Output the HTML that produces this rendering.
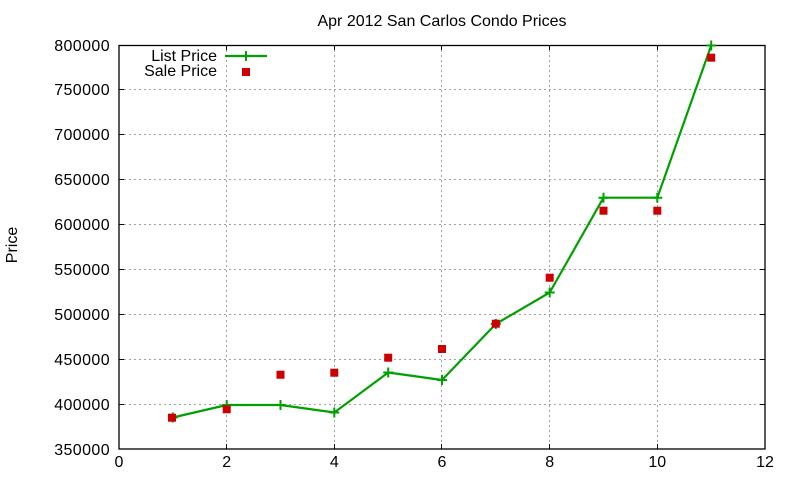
<!DOCTYPE html>
<html>
<head>
<meta charset="utf-8">
<style>
  html, body { margin:0; padding:0; background:#fff; }
  svg { display:block; }
  text { font-family: "Liberation Sans", Arial, sans-serif; font-size:16px; fill:#000; }
</style>
</head>
<body>
<svg width="800" height="480" viewBox="0 0 800 480" xmlns="http://www.w3.org/2000/svg">
  <rect x="0" y="0" width="800" height="480" fill="#fff"/>

  <!-- grid -->
  <g stroke="#a0a0a0" stroke-width="1" stroke-dasharray="2,3" fill="none">
    <line x1="119" y1="404.5" x2="765" y2="404.5"/>
    <line x1="119" y1="359.5" x2="765" y2="359.5"/>
    <line x1="119" y1="314.5" x2="765" y2="314.5"/>
    <line x1="119" y1="269.5" x2="765" y2="269.5"/>
    <line x1="119" y1="224.5" x2="765" y2="224.5"/>
    <line x1="119" y1="179.5" x2="765" y2="179.5"/>
    <line x1="119" y1="134.5" x2="765" y2="134.5"/>
    <line x1="119" y1="89.5" x2="765" y2="89.5"/>
    <line x1="226.5" y1="45" x2="226.5" y2="449"/>
    <line x1="334.5" y1="45" x2="334.5" y2="449"/>
    <line x1="441.5" y1="45" x2="441.5" y2="449"/>
    <line x1="549.5" y1="45" x2="549.5" y2="449"/>
    <line x1="657.5" y1="45" x2="657.5" y2="449"/>
  </g>

  <!-- ticks -->
  <g stroke="#000" stroke-width="1">
    <!-- y ticks left & right -->
    <line x1="119" y1="404.5" x2="124" y2="404.5"/><line x1="760" y1="404.5" x2="765" y2="404.5"/>
    <line x1="119" y1="359.5" x2="124" y2="359.5"/><line x1="760" y1="359.5" x2="765" y2="359.5"/>
    <line x1="119" y1="314.5" x2="124" y2="314.5"/><line x1="760" y1="314.5" x2="765" y2="314.5"/>
    <line x1="119" y1="269.5" x2="124" y2="269.5"/><line x1="760" y1="269.5" x2="765" y2="269.5"/>
    <line x1="119" y1="224.5" x2="124" y2="224.5"/><line x1="760" y1="224.5" x2="765" y2="224.5"/>
    <line x1="119" y1="179.5" x2="124" y2="179.5"/><line x1="760" y1="179.5" x2="765" y2="179.5"/>
    <line x1="119" y1="134.5" x2="124" y2="134.5"/><line x1="760" y1="134.5" x2="765" y2="134.5"/>
    <line x1="119" y1="89.5" x2="124" y2="89.5"/><line x1="760" y1="89.5" x2="765" y2="89.5"/>
    <!-- x ticks bottom & top -->
    <line x1="226.5" y1="444" x2="226.5" y2="449"/><line x1="226.5" y1="45" x2="226.5" y2="50"/>
    <line x1="334.5" y1="444" x2="334.5" y2="449"/><line x1="334.5" y1="45" x2="334.5" y2="50"/>
    <line x1="441.5" y1="444" x2="441.5" y2="449"/><line x1="441.5" y1="45" x2="441.5" y2="50"/>
    <line x1="549.5" y1="444" x2="549.5" y2="449"/><line x1="549.5" y1="45" x2="549.5" y2="50"/>
    <line x1="657.5" y1="444" x2="657.5" y2="449"/><line x1="657.5" y1="45" x2="657.5" y2="50"/>
  </g>

  <!-- border -->
  <rect x="119" y="45.5" width="646" height="403.5" fill="none" stroke="#000" stroke-width="1.3"/>

  <!-- y tick labels -->
  <g text-anchor="end" style="letter-spacing:0.4px">
    <text x="110" y="455">350000</text>
    <text x="110" y="410">400000</text>
    <text x="110" y="365">450000</text>
    <text x="110" y="320">500000</text>
    <text x="110" y="275">550000</text>
    <text x="110" y="230">600000</text>
    <text x="110" y="185">650000</text>
    <text x="110" y="140">700000</text>
    <text x="110" y="95">750000</text>
    <text x="110" y="51">800000</text>
  </g>

  <!-- x tick labels -->
  <g text-anchor="middle">
    <text x="119" y="467">0</text>
    <text x="226.7" y="467">2</text>
    <text x="334.3" y="467">4</text>
    <text x="442" y="467">6</text>
    <text x="549.7" y="467">8</text>
    <text x="657.3" y="467">10</text>
    <text x="765" y="467">12</text>
  </g>

  <!-- title -->
  <text x="442" y="26" text-anchor="middle">Apr 2012 San Carlos Condo Prices</text>

  <!-- y axis label -->
  <text transform="translate(17,245) rotate(-90)" text-anchor="middle">Price</text>

  <!-- List Price line -->
  <polyline fill="none" stroke="#00a000" stroke-width="2.2" stroke-linejoin="round"
    points="172.8,417.5 226.7,405 280.5,405 334.3,412.5 388.2,372.5 442,380 495.8,324 549.7,292.5 603.5,197.7 657.3,197.7 711.2,45.5"/>
  <!-- plus markers -->
  <g stroke="#00a000" stroke-width="2">
    <path d="M167.8,417.5h10M172.8,412.5v10"/>
    <path d="M221.7,405h10M226.7,400v10"/>
    <path d="M275.5,405h10M280.5,400v10"/>
    <path d="M329.3,412.5h10M334.3,407.5v10"/>
    <path d="M383.2,372.5h10M388.2,367.5v10"/>
    <path d="M437,380h10M442,375v10"/>
    <path d="M490.8,324h10M495.8,319v10"/>
    <path d="M544.7,292.5h10M549.7,287.5v10"/>
    <path d="M598.5,197.7h10M603.5,192.7v10"/>
    <path d="M652.3,197.7h10M657.3,192.7v10"/>
    <path d="M706.2,45.5h10M711.2,40.5v10"/>
  </g>

  <!-- Sale Price squares -->
  <g fill="#cc0000">
    <rect x="168" y="413.7" width="8" height="8"/>
    <rect x="222.7" y="405.3" width="8" height="8"/>
    <rect x="276.5" y="370.7" width="8" height="8"/>
    <rect x="330.3" y="368.7" width="8" height="8"/>
    <rect x="384.2" y="353.7" width="8" height="8"/>
    <rect x="438" y="345" width="8" height="8"/>
    <rect x="491.8" y="319.7" width="8" height="8"/>
    <rect x="545.7" y="273.7" width="8" height="8"/>
    <rect x="599.5" y="206.7" width="8" height="8"/>
    <rect x="653.3" y="206.7" width="8" height="8"/>
    <rect x="707.2" y="53.7" width="8" height="8"/>
  </g>

  <!-- legend -->
  <text x="217" y="61" text-anchor="end">List Price</text>
  <text x="217" y="76" text-anchor="end">Sale Price</text>
  <line x1="225" y1="56" x2="267" y2="56" stroke="#00a000" stroke-width="2.2"/>
  <path d="M246,51v10" stroke="#00a000" stroke-width="2"/>
  <rect x="242" y="68" width="8" height="8" fill="#cc0000"/>
</svg>
</body>
</html>
